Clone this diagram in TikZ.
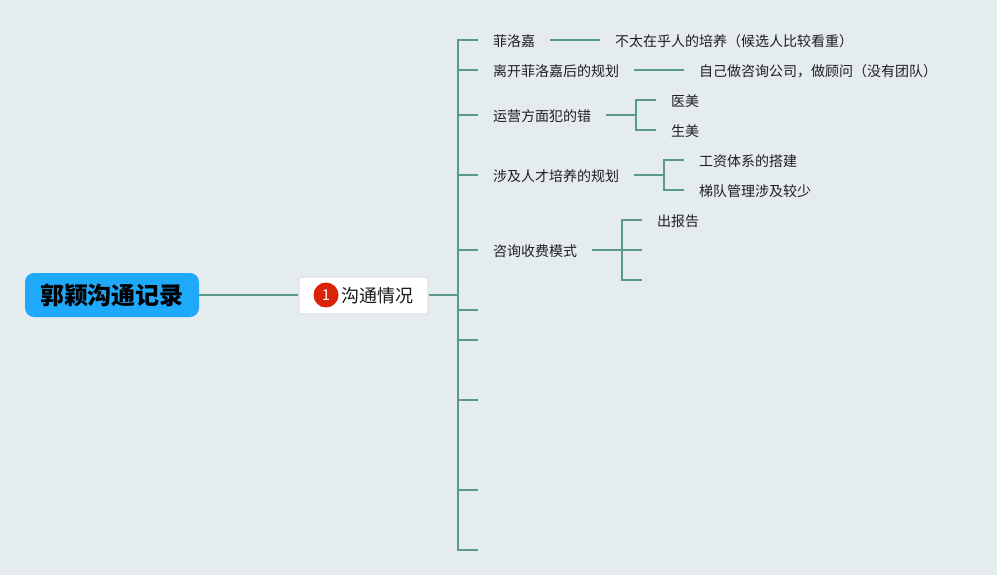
\documentclass[tikz,border=0pt]{standalone}
\usepackage{fontspec}
\setmainfont{Noto Sans CJK SC}
\definecolor{bgc}{HTML}{E4ECF0}
\definecolor{linec}{HTML}{5A9A8A}
\definecolor{rootc}{HTML}{1EA9FB}
\definecolor{badgec}{HTML}{DA2307}
\definecolor{edgec}{HTML}{DDE1E4}
\tikzset{
  link/.style={draw=linec,line width=1.9pt,line join=miter},
  leaf/.style={anchor=west,inner xsep=15pt,inner ysep=0pt,text height=14pt,text depth=1pt,font=\fontsize{14}{14}\selectfont,text=black!88},
  rootbox/.style={fill=rootc,rounded corners=9pt,minimum width=174pt,minimum height=44pt,inner sep=0pt,font=\fontsize{24}{24}\selectfont\bfseries},
  topicbox/.style={fill=white,draw=edgec,line width=1.2pt,rounded corners=1.5pt,minimum width=129pt,minimum height=37pt,inner sep=0pt},
  topictext/.style={inner sep=0pt,font=\fontsize{18}{18}\selectfont,text=black!90},
  badge/.style={circle,fill=badgec,minimum size=25pt,inner sep=0pt,text=white,font=\fontsize{15}{15}\selectfont}
}
\begin{document}
\begin{tikzpicture}[x=1pt,y=-1pt]
\fill[bgc] (0,0) rectangle (997,575);
\useasboundingbox (0,0) rectangle (997,575);
\node[rootbox] (root) at (112,295) {郭颖沟通记录};
\node[topicbox] (topic) at (363.5,295.5) {};
\node[badge] (num) at (326,295) {1};
\node[topictext,anchor=west] (topiclabel) at (341,296) {沟通情况};
\coordinate (trunk) at (458,295);
% first level
\node[leaf] (a1) at (478,40) {菲洛嘉};
\node[leaf] (a2) at (478,70) {离开菲洛嘉后的规划};
\node[leaf] (a3) at (478,115) {运营方面犯的错};
\node[leaf] (a4) at (478,175) {涉及人才培养的规划};
\node[leaf] (a5) at (478,250) {咨询收费模式};
\coordinate (a6) at (478,310);
\coordinate (a7) at (478,340);
\coordinate (a8) at (478,400);
\coordinate (a9) at (478,490);
\coordinate (a10) at (478,550);
% second level
\node[leaf] (b1) at (600,40) {不太在乎人的培养（候选人比较看重）};
\node[leaf] (b2) at (684,70) {自己做咨询公司，做顾问（没有团队）};
\node[leaf] (c1) at (656,100) {医美};
\node[leaf] (c2) at (656,130) {生美};
\node[leaf] (d1) at (684,160) {工资体系的搭建};
\node[leaf] (d2) at (684,190) {梯队管理涉及较少};
\node[leaf] (e1) at (642,220) {出报告};
\coordinate (e2) at (642,250);
\coordinate (e3) at (642,280);
\coordinate (fc) at (636,115);
\coordinate (fd) at (664,175);
\coordinate (fe) at (622,250);
% connectors
\draw[link] (root.east) -- (topic.west |- root.east);
\draw[link] (topic.east |- trunk) -- (trunk);
\foreach \t in {a1,a2,a3,a4,a5,a6,a7,a8,a9,a10}
  \draw[link] (trunk) |- (\t.west);
\draw[link] (a1.east) -- (b1.west);
\draw[link] (a2.east) -- (b2.west);
\draw[link] (a3.east) -- (fc);
\draw[link] (fc) |- (c1.west);
\draw[link] (fc) |- (c2.west);
\draw[link] (a4.east) -- (fd);
\draw[link] (fd) |- (d1.west);
\draw[link] (fd) |- (d2.west);
\draw[link] (a5.east) -- (fe);
\draw[link] (fe) |- (e1.west);
\draw[link] (fe) -- (e2);
\draw[link] (fe) |- (e3);
\end{tikzpicture}
\end{document}
